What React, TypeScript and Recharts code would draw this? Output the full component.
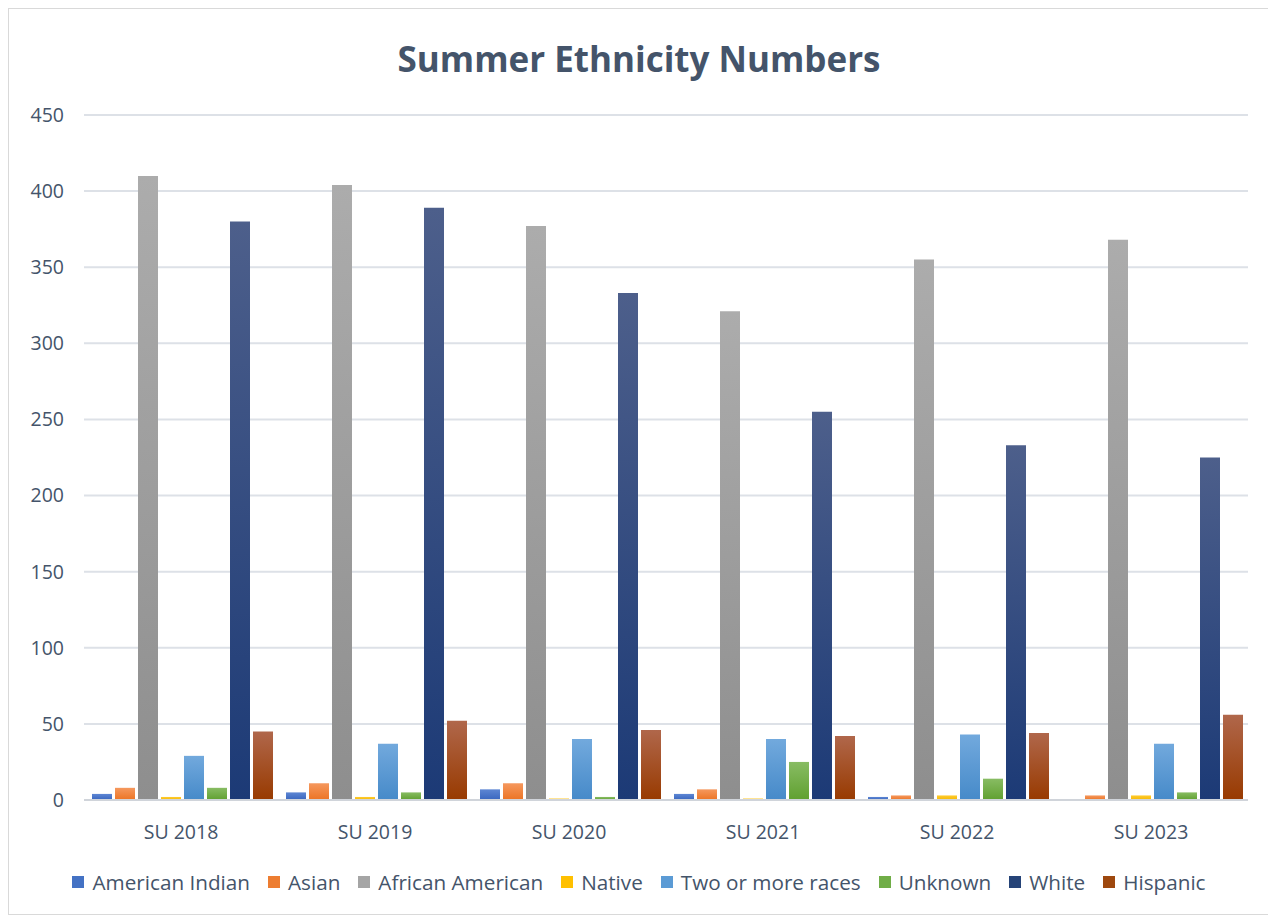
import { BarChart, Bar, XAxis, YAxis, CartesianGrid } from 'recharts';

const categories = ['SU 2018', 'SU 2019', 'SU 2020', 'SU 2021', 'SU 2022', 'SU 2023'];
const americanIndian = [4, 5, 7, 4, 2, 0];
const asian = [8, 11, 11, 7, 3, 3];
const africanAmerican = [410, 404, 377, 321, 355, 368];
const native = [2, 2, 1, 1, 3, 3];
const twoOrMore = [29, 37, 40, 40, 43, 37];
const unknown = [8, 5, 2, 25, 14, 5];
const white = [380, 389, 333, 255, 233, 225];
const hispanic = [45, 52, 46, 42, 44, 56];
const yTicks = [0, 50, 100, 150, 200, 250, 300, 350, 400, 450];

const series = [
  { key: 'American Indian', values: americanIndian, top: '#5d86d3', bottom: '#3966bf', swatch: '#4472c4' },
  { key: 'Asian', values: asian, top: '#f5985e', bottom: '#ec7424', swatch: '#ed7d31' },
  { key: 'African American', values: africanAmerican, top: '#acacac', bottom: '#8e8e8e', swatch: '#a5a5a5' },
  { key: 'Native', values: native, top: '#ffcb30', bottom: '#f5b800', swatch: '#ffc000' },
  { key: 'Two or more races', values: twoOrMore, top: '#72a9dd', bottom: '#468ac9', swatch: '#5b9bd5' },
  { key: 'Unknown', values: unknown, top: '#88bc63', bottom: '#60a030', swatch: '#70ad47' },
  { key: 'White', values: white, top: '#4d5f8b', bottom: '#1c3a76', swatch: '#264478' },
  { key: 'Hispanic', values: hispanic, top: '#b0674b', bottom: '#983a00', swatch: '#9e480e' },
];

const data = categories.map((name, i) => {
  const row: any = { name };
  series.forEach((s) => {
    row[s.key] = s.values[i];
  });
  return row;
});

const textColor = '#44546a';

export default function App() {
  return (
    <div
      style={{
        position: 'relative',
        width: 1260,
        height: 905,
        border: '1px solid #d9d9d9',
        background: '#fff',
        fontFamily: '"Open Sans", sans-serif',
      }}
    >
      <div
        style={{
          position: 'absolute',
          top: 26,
          left: 0,
          width: '100%',
          textAlign: 'center',
          fontSize: 35,
          fontWeight: 700,
          color: textColor,
        }}
      >
        Summer Ethnicity Numbers
      </div>
      <BarChart
        width={1260}
        height={905}
        data={data}
        margin={{ top: 106, right: 21, left: 10, bottom: 84 }}
        barCategoryGap={8}
        barGap={3}
      >
        <defs>
          {series.map((s, i) => (
            <linearGradient key={s.key} id={`grad${i}`} x1="0" y1="0" x2="0" y2="1">
              <stop offset="0%" stopColor={s.top} />
              <stop offset="100%" stopColor={s.bottom} />
            </linearGradient>
          ))}
        </defs>
        <CartesianGrid vertical={false} stroke="#dde1e7" strokeWidth={2} />
        <XAxis
          dataKey="name"
          height={30}
          tickLine={false}
          axisLine={{ stroke: '#d0d4da', strokeWidth: 2 }}
          tick={{ fill: textColor, fontSize: 19.5 }}
          tickMargin={19}
        />
        <YAxis
          width={65}
          domain={[0, 450]}
          ticks={yTicks}
          interval={0}
          tickLine={false}
          axisLine={false}
          tick={{ fill: textColor, fontSize: 19.5 }}
          tickMargin={14}
        />
        {series.map((s, i) => (
          <Bar key={s.key} dataKey={s.key} fill={`url(#grad${i})`} isAnimationActive={false} />
        ))}
      </BarChart>
      <div
        style={{
          position: 'absolute',
          top: 859,
          left: 0,
          width: '100%',
          display: 'flex',
          justifyContent: 'center',
          gap: 18,
          fontSize: 20.7,
          color: textColor,
        }}
      >
        {series.map((s) => (
          <div key={s.key} style={{ display: 'flex', alignItems: 'center', gap: 8 }}>
            <span style={{ display: 'inline-block', width: 12, height: 12, background: s.swatch }} />
            <span>{s.key}</span>
          </div>
        ))}
      </div>
    </div>
  );
}
